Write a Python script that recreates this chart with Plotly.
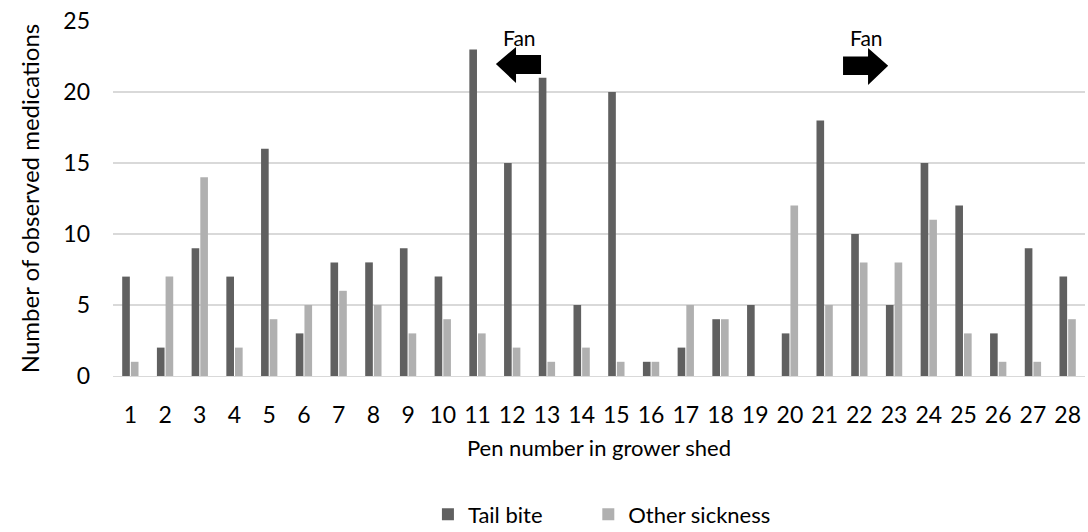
import plotly.graph_objects as go

pens = list(range(1, 29))
tail_bite = [7, 2, 9, 7, 16, 3, 8, 8, 9, 7, 23, 15, 21, 5, 20, 1, 2, 4, 5, 3, 18, 10, 5, 15, 12, 3, 9, 7]
other_sickness = [1, 7, 14, 2, 4, 5, 6, 5, 3, 4, 3, 2, 1, 2, 1, 1, 5, 4, 0, 12, 5, 8, 8, 11, 3, 1, 1, 4]
y_ticks = [0, 5, 10, 15, 20, 25]

FONT = "Lato"
DARK = "#606060"
LIGHT = "#b0b0b0"

fig = go.Figure()
fig.add_trace(go.Bar(x=pens, y=tail_bite, name="Tail bite", marker_color=DARK,
                     marker_line_width=0, legend="legend", showlegend=True))
fig.add_trace(go.Bar(x=pens, y=other_sickness, name="Other sickness", marker_color=LIGHT,
                     marker_line_width=0, legend="legend2", showlegend=True))

# Fan block arrows (decorations)
fig.add_shape(type="path", xref="x", yref="y",
              path="M 11.53 21.97 L 12.11 23.17 L 12.11 22.6 L 12.83 22.6 L 12.83 21.27 L 12.11 21.27 L 12.11 20.63 Z",
              fillcolor="black", line_width=0)
fig.add_shape(type="path", xref="x", yref="y",
              path="M 22.83 21.85 L 22.25 23.1 L 22.25 22.5 L 21.53 22.5 L 21.53 21.2 L 22.25 21.2 L 22.25 20.5 Z",
              fillcolor="black", line_width=0)
fig.add_annotation(x=12.2, y=23.85, xref="x", yref="y", text="Fan", showarrow=False,
                   font=dict(family=FONT, size=21, color="black"))
fig.add_annotation(x=22.2, y=23.85, xref="x", yref="y", text="Fan", showarrow=False,
                   font=dict(family=FONT, size=21, color="black"))

legend_common = dict(orientation="h", yanchor="middle", y=-0.39, xanchor="left",
                     font=dict(size=22), itemwidth=30, visible=True)

fig.update_layout(
    width=1088, height=532,
    showlegend=True,
    margin=dict(l=113, r=3, t=21, b=156, autoexpand=False),
    plot_bgcolor="white", paper_bgcolor="white",
    barmode="group", bargap=0.5, bargroupgap=0.12,
    font=dict(family=FONT, size=23, color="black"),
    legend=dict(x=0.324, **legend_common),
    legend2=dict(x=0.489, **legend_common),
    xaxis=dict(
        tickmode="array", tickvals=pens, ticktext=[str(p) for p in pens],
        range=[0.5, 28.5], showgrid=False, showline=True, linecolor="#d9d9d9", linewidth=1,
        ticks="", ticklabelstandoff=18, automargin=False,
        title=dict(text="Pen number in grower shed", standoff=14, font=dict(size=22)),
        zeroline=False,
    ),
    yaxis=dict(
        range=[0, 25], tickvals=y_ticks, showgrid=True, gridcolor="#d9d9d9", gridwidth=1.5,
        zeroline=False, ticks="", ticklabelstandoff=22, automargin=False,
        title=dict(text="Number of observed medications", standoff=16, font=dict(size=24)),
    ),
)

fig.write_html("out.html")
